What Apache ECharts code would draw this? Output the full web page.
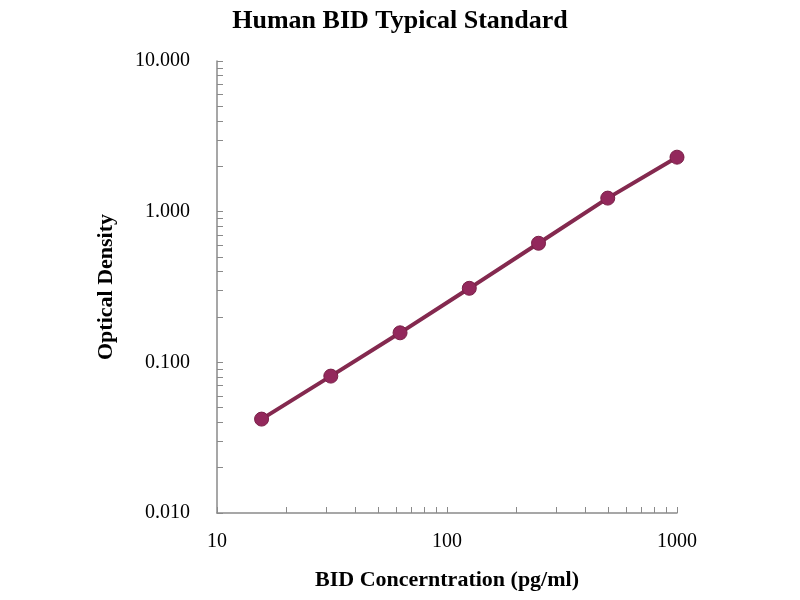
<!DOCTYPE html>
<html>
<head>
<meta charset="utf-8">
<script src="https://cdn.jsdelivr.net/npm/echarts@6/dist/echarts.min.js"></script>
<style>
  html, body { margin: 0; padding: 0; background: #fff; }
  #main { width: 800px; height: 600px; }
</style>
</head>
<body>
<div id="main"></div>
<script>
// 标准曲线数据
var concentration = [15.625, 31.25, 62.5, 125, 250, 500, 1000];
var opticalDensity = [0.042, 0.081, 0.157, 0.31, 0.617, 1.23, 2.30];

// 坐标轴刻度
var xLabelValues = [10, 100, 1000];
var xTickValues = [10, 20, 30, 40, 50, 60, 70, 80, 90,
                   100, 200, 300, 400, 500, 600, 700, 800, 900, 1000];
var yLabelValues = [0.01, 0.1, 1, 10];
var yTickValues = [0.01, 0.02, 0.03, 0.04, 0.05, 0.06, 0.07, 0.08, 0.09,
                   0.1, 0.2, 0.3, 0.4, 0.5, 0.6, 0.7, 0.8, 0.9,
                   1, 2, 3, 4, 5, 6, 7, 8, 9, 10];

var points = concentration.map(function (c, i) {
    return [c, opticalDensity[i]];
});

var serif = '"Liberation Serif", "DejaVu Serif", serif';
var axisGray = '#8a8a8a';

var myChart = echarts.init(document.getElementById('main'));
myChart.setOption({
    animation: false,
    backgroundColor: '#fff',
    title: {
        text: 'Human BID Typical Standard',
        left: 'center',
        top: 3,
        textStyle: { fontFamily: serif, fontWeight: 'bold', fontSize: 26, color: '#000' }
    },
    grid: { left: 217, right: 123, top: 61, bottom: 87, containLabel: false },
    xAxis: {
        type: 'log',
        logBase: 10,
        min: 10,
        max: 1000,
        name: 'BID Concerntration (pg/ml)',
        nameLocation: 'middle',
        nameGap: 56,
        nameTextStyle: { fontFamily: serif, fontWeight: 'bold', fontSize: 22, color: '#000' },
        axisLine: { show: true, lineStyle: { color: axisGray, width: 1.5 } },
        axisTick: {
            show: true,
            inside: true,
            length: 6,
            customValues: xTickValues,
            lineStyle: { color: axisGray, width: 1 }
        },
        axisLabel: {
            customValues: xLabelValues,
            margin: 19,
            fontFamily: serif,
            fontSize: 20,
            color: '#000',
            formatter: function (v) { return String(Math.round(v)); }
        },
        splitLine: { show: false }
    },
    yAxis: {
        type: 'log',
        logBase: 10,
        min: 0.01,
        max: 10,
        name: 'Optical Density',
        nameLocation: 'middle',
        nameGap: 100,
        nameRotate: 90,
        nameTextStyle: { fontFamily: serif, fontWeight: 'bold', fontSize: 22, color: '#000' },
        axisLine: { show: true, lineStyle: { color: axisGray, width: 1.5 } },
        axisTick: {
            show: true,
            inside: true,
            length: 6,
            customValues: yTickValues,
            lineStyle: { color: axisGray, width: 1 }
        },
        axisLabel: {
            customValues: yLabelValues,
            margin: 27,
            fontFamily: serif,
            fontSize: 20,
            color: '#000',
            formatter: function (v) { return Number(v).toFixed(3); }
        },
        splitLine: { show: false }
    },
    series: [{
        name: 'OD',
        type: 'line',
        data: points,
        symbol: 'circle',
        symbolSize: 14,
        lineStyle: { color: '#84294f', width: 4 },
        itemStyle: { color: '#93285c', borderColor: '#7a2048', borderWidth: 1 }
    }]
});
</script>
</body>
</html>
